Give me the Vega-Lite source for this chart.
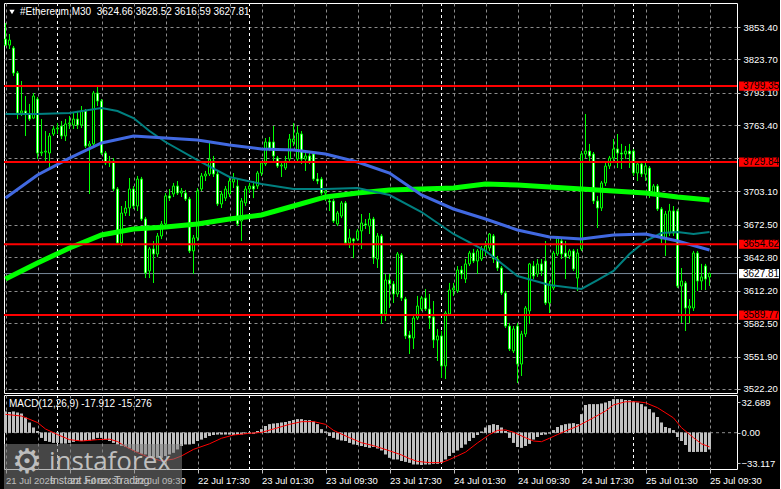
{
"$schema":"https://vega.github.io/schema/vega-lite/v6.json",
"background":"black",
"padding":{"left":2,"top":2,"right":0,"bottom":0},
"autosize":{"type":"pad"},
"bounds":"flush",
"spacing":2,
"config":{
 "view":{"stroke":"white","strokeWidth":1},
 "axis":{"labelFont":"Liberation Sans","labelFontSize":9.5,"labelColor":"white","domain":false,"gridColor":"#8c8c8c","gridDash":[3,3],"gridWidth":1,"tickColor":"#c0c0c0"},
 "text":{"font":"Liberation Sans"}
},
"datasets":{
"one":[{}],
"bars":[
{"t":"2025-07-21T17:30","o":3842.4,"h":3857.1,"l":3836.0,"c":3836.9,"m":22.7,"s":19.8},
{"t":"2025-07-21T18:00","o":3836.9,"h":3847.0,"l":3833.3,"c":3841.5,"m":22.3},
{"t":"2025-07-21T18:30","o":3834.2,"h":3836.0,"l":3808.6,"c":3811.3,"m":22.7},
{"t":"2025-07-21T19:00","o":3811.3,"h":3813.1,"l":3769.2,"c":3774.7,"m":21.6},
{"t":"2025-07-21T19:30","o":3774.7,"h":3804.0,"l":3772.0,"c":3776.6,"m":20.5,"s":18.0},
{"t":"2025-07-21T20:00","o":3776.6,"h":3790.3,"l":3753.7,"c":3773.8,"m":16.2},
{"t":"2025-07-21T20:30","o":3773.8,"h":3783.0,"l":3767.4,"c":3769.2,"m":10.8},
{"t":"2025-07-21T21:00","o":3770.1,"h":3793.0,"l":3769.2,"c":3790.3,"m":5.4},
{"t":"2025-07-21T21:30","o":3787.5,"h":3789.4,"l":3732.6,"c":3738.1,"m":1.8,"s":11.0},
{"t":"2025-07-21T22:00","o":3738.1,"h":3769.2,"l":3735.4,"c":3739.0,"m":-5.4},
{"t":"2025-07-21T22:30","o":3739.0,"h":3758.2,"l":3729.0,"c":3739.9,"m":-9.0,"s":4.0},
{"t":"2025-07-21T23:00","o":3738.1,"h":3756.4,"l":3724.4,"c":3753.7,"m":-9.7},
{"t":"2025-07-21T23:30","o":3755.5,"h":3762.8,"l":3753.7,"c":3760.1,"m":-10.8},
{"t":"2025-07-22T00:00","o":3760.1,"h":3765.6,"l":3755.5,"c":3761.0,"m":-10.8,"s":-2.0},
{"t":"2025-07-22T00:30","o":3762.8,"h":3767.4,"l":3750.9,"c":3753.7,"m":-11.5},
{"t":"2025-07-22T01:00","o":3753.7,"h":3769.2,"l":3749.1,"c":3764.7,"m":-11.5},
{"t":"2025-07-22T01:30","o":3764.7,"h":3772.0,"l":3760.1,"c":3765.6,"m":-10.8,"s":-7.5},
{"t":"2025-07-22T02:00","o":3763.7,"h":3774.7,"l":3760.1,"c":3769.2,"m":-9.7},
{"t":"2025-07-22T02:30","o":3769.2,"h":3776.6,"l":3760.1,"c":3763.7,"m":-9.0},
{"t":"2025-07-22T03:00","o":3763.7,"h":3781.1,"l":3761.0,"c":3776.6,"m":-9.0,"s":-9.0},
{"t":"2025-07-22T03:30","o":3776.6,"h":3778.4,"l":3742.7,"c":3744.5,"m":-9.0},
{"t":"2025-07-22T04:00","o":3744.5,"h":3749.1,"l":3700.6,"c":3746.4,"m":-8.2},
{"t":"2025-07-22T04:30","o":3746.4,"h":3794.9,"l":3743.6,"c":3793.0,"m":-7.2},
{"t":"2025-07-22T05:00","o":3793.0,"h":3798.5,"l":3781.1,"c":3785.7,"m":-5.4,"s":-7.5},
{"t":"2025-07-22T05:30","o":3785.7,"h":3787.5,"l":3736.3,"c":3738.1,"m":-5.4},
{"t":"2025-07-22T06:00","o":3738.1,"h":3739.9,"l":3727.1,"c":3729.0,"m":-7.2},
{"t":"2025-07-22T06:30","o":3729.0,"h":3735.4,"l":3725.3,"c":3730.8,"m":-9.0,"s":-7.0},
{"t":"2025-07-22T07:00","o":3730.8,"h":3733.5,"l":3703.4,"c":3705.2,"m":-10.8},
{"t":"2025-07-22T07:30","o":3705.2,"h":3707.0,"l":3653.9,"c":3655.8,"m":-12.5,"s":-9.5},
{"t":"2025-07-22T08:00","o":3655.8,"h":3689.6,"l":3653.0,"c":3683.2,"m":-14.3},
{"t":"2025-07-22T08:30","o":3683.2,"h":3694.2,"l":3680.5,"c":3687.8,"m":-15.4,"s":-15.0},
{"t":"2025-07-22T09:00","o":3687.8,"h":3715.2,"l":3680.5,"c":3705.2,"m":-16.9},
{"t":"2025-07-22T09:30","o":3705.2,"h":3707.9,"l":3686.9,"c":3689.6,"m":-19.0},
{"t":"2025-07-22T10:00","o":3689.6,"h":3717.1,"l":3685.1,"c":3714.3,"m":-20.5,"s":-21.5},
{"t":"2025-07-22T10:30","o":3714.3,"h":3716.2,"l":3675.9,"c":3677.7,"m":-22.6},
{"t":"2025-07-22T11:00","o":3677.7,"h":3679.6,"l":3623.7,"c":3628.3,"m":-23.3},
{"t":"2025-07-22T11:30","o":3630.2,"h":3652.1,"l":3623.7,"c":3650.3,"m":-25.1,"s":-26.9},
{"t":"2025-07-22T12:00","o":3650.3,"h":3657.6,"l":3619.2,"c":3645.7,"m":-26.2},
{"t":"2025-07-22T12:30","o":3645.7,"h":3664.9,"l":3642.9,"c":3662.2,"m":-26.9},
{"t":"2025-07-22T13:00","o":3662.2,"h":3675.9,"l":3659.4,"c":3673.2,"m":-26.9,"s":-30.5},
{"t":"2025-07-22T13:30","o":3673.2,"h":3701.5,"l":3671.3,"c":3698.8,"m":-25.1},
{"t":"2025-07-22T14:00","o":3698.8,"h":3705.2,"l":3694.2,"c":3696.9,"m":-23.3},
{"t":"2025-07-22T14:30","o":3700.6,"h":3710.7,"l":3697.9,"c":3707.9,"m":-21.5,"s":-28.5},
{"t":"2025-07-22T15:00","o":3707.9,"h":3712.5,"l":3699.7,"c":3701.5,"m":-17.9},
{"t":"2025-07-22T15:30","o":3701.5,"h":3706.1,"l":3697.9,"c":3703.4,"m":-14.3,"s":-25.1},
{"t":"2025-07-22T16:00","o":3701.5,"h":3704.3,"l":3694.2,"c":3696.0,"m":-12.5},
{"t":"2025-07-22T16:30","o":3696.0,"h":3697.9,"l":3646.6,"c":3648.5,"m":-12.5},
{"t":"2025-07-22T17:00","o":3648.5,"h":3663.1,"l":3627.4,"c":3660.4,"m":-11.8,"s":-18.0},
{"t":"2025-07-22T17:30","o":3660.4,"h":3706.1,"l":3657.6,"c":3703.4,"m":-9.0},
{"t":"2025-07-22T18:00","o":3705.2,"h":3719.8,"l":3703.4,"c":3717.1,"m":-7.2},
{"t":"2025-07-22T18:30","o":3717.1,"h":3721.7,"l":3712.5,"c":3718.9,"m":-5.4},
{"t":"2025-07-22T19:00","o":3718.9,"h":3749.1,"l":3717.1,"c":3732.6,"m":-3.6,"s":-12.0},
{"t":"2025-07-22T19:30","o":3730.8,"h":3735.4,"l":3716.2,"c":3718.9,"m":-2.5},
{"t":"2025-07-22T20:00","o":3718.9,"h":3721.7,"l":3689.6,"c":3691.5,"m":-1.8},
{"t":"2025-07-22T20:30","o":3691.5,"h":3703.4,"l":3687.8,"c":3700.6,"m":-1.8,"s":-6.0},
{"t":"2025-07-22T21:00","o":3696.9,"h":3707.9,"l":3694.2,"c":3705.2,"m":-1.8},
{"t":"2025-07-22T21:30","o":3700.6,"h":3715.2,"l":3697.9,"c":3712.5,"m":-1.8},
{"t":"2025-07-22T22:00","o":3711.6,"h":3719.8,"l":3706.1,"c":3714.3,"m":-2.5,"s":-2.5},
{"t":"2025-07-22T22:30","o":3707.9,"h":3714.3,"l":3671.3,"c":3673.2,"m":-2.5},
{"t":"2025-07-22T23:00","o":3675.9,"h":3696.9,"l":3657.6,"c":3694.2,"m":-1.8},
{"t":"2025-07-22T23:30","o":3692.4,"h":3707.9,"l":3689.6,"c":3705.2,"m":-1.0},
{"t":"2025-07-23T00:00","o":3705.2,"h":3710.7,"l":3701.5,"c":3707.9,"m":-1.0,"s":-0.7},
{"t":"2025-07-23T00:30","o":3707.9,"h":3712.5,"l":3696.9,"c":3705.2,"m":-1.0},
{"t":"2025-07-23T01:00","o":3707.9,"h":3721.7,"l":3705.2,"c":3719.8,"m":1.8},
{"t":"2025-07-23T01:30","o":3719.8,"h":3730.8,"l":3717.1,"c":3729.0,"m":3.6,"s":0.3},
{"t":"2025-07-23T02:00","o":3728.1,"h":3751.8,"l":3726.2,"c":3748.2,"m":7.2},
{"t":"2025-07-23T02:30","o":3748.2,"h":3752.8,"l":3739.9,"c":3742.7,"m":9.0},
{"t":"2025-07-23T03:00","o":3748.2,"h":3762.8,"l":3729.0,"c":3735.4,"m":9.7,"s":4.0},
{"t":"2025-07-23T03:30","o":3733.5,"h":3735.4,"l":3724.4,"c":3726.2,"m":10.1},
{"t":"2025-07-23T04:00","o":3726.2,"h":3730.8,"l":3716.2,"c":3727.1,"m":10.8},
{"t":"2025-07-23T04:30","o":3724.4,"h":3735.4,"l":3722.6,"c":3730.8,"m":11.5},
{"t":"2025-07-23T05:00","o":3732.6,"h":3755.5,"l":3730.8,"c":3750.9,"m":12.6,"s":9.0},
{"t":"2025-07-23T05:30","o":3748.2,"h":3765.6,"l":3744.5,"c":3750.9,"m":13.7},
{"t":"2025-07-23T06:00","o":3732.6,"h":3762.8,"l":3730.8,"c":3756.4,"m":14.4},
{"t":"2025-07-23T06:30","o":3755.5,"h":3758.2,"l":3728.1,"c":3732.6,"m":14.4,"s":11.9},
{"t":"2025-07-23T07:00","o":3732.6,"h":3739.9,"l":3721.7,"c":3735.4,"m":13.3},
{"t":"2025-07-23T07:30","o":3735.4,"h":3738.1,"l":3728.1,"c":3730.8,"m":13.3},
{"t":"2025-07-23T08:00","o":3737.2,"h":3739.9,"l":3712.5,"c":3714.3,"m":11.9,"s":12.0},
{"t":"2025-07-23T08:30","o":3714.3,"h":3719.8,"l":3709.7,"c":3712.5,"m":9.0},
{"t":"2025-07-23T09:00","o":3714.3,"h":3716.2,"l":3699.7,"c":3701.5,"m":3.6},
{"t":"2025-07-23T09:30","o":3701.5,"h":3705.2,"l":3694.2,"c":3703.4,"m":1.1,"s":9.0},
{"t":"2025-07-23T10:00","o":3694.2,"h":3696.0,"l":3685.1,"c":3693.3,"m":-3.6},
{"t":"2025-07-23T10:30","o":3694.2,"h":3696.0,"l":3674.1,"c":3675.9,"m":-5.4,"s":2.5},
{"t":"2025-07-23T11:00","o":3673.2,"h":3685.1,"l":3671.3,"c":3683.2,"m":-7.2},
{"t":"2025-07-23T11:30","o":3680.5,"h":3694.2,"l":3678.6,"c":3692.4,"m":-8.2},
{"t":"2025-07-23T12:00","o":3692.4,"h":3694.2,"l":3653.9,"c":3655.8,"m":-9.0},
{"t":"2025-07-23T12:30","o":3655.8,"h":3668.6,"l":3651.2,"c":3660.4,"m":-10.8,"s":-5.4},
{"t":"2025-07-23T13:00","o":3659.4,"h":3660.4,"l":3642.0,"c":3657.6,"m":-12.5},
{"t":"2025-07-23T13:30","o":3659.4,"h":3668.6,"l":3657.6,"c":3666.8,"m":-13.3},
{"t":"2025-07-23T14:00","o":3666.8,"h":3682.3,"l":3650.3,"c":3674.1,"m":-14.3,"s":-10.8},
{"t":"2025-07-23T14:30","o":3673.2,"h":3677.7,"l":3668.6,"c":3672.2,"m":-15.4},
{"t":"2025-07-23T15:00","o":3671.3,"h":3683.2,"l":3664.0,"c":3677.7,"m":-16.1},
{"t":"2025-07-23T15:30","o":3677.7,"h":3679.6,"l":3636.6,"c":3642.0,"m":-15.4,"s":-14.0},
{"t":"2025-07-23T16:00","o":3641.1,"h":3664.9,"l":3632.9,"c":3662.2,"m":-16.9},
{"t":"2025-07-23T16:30","o":3662.2,"h":3664.0,"l":3581.7,"c":3590.8,"m":-19.0},
{"t":"2025-07-23T17:00","o":3590.8,"h":3627.4,"l":3584.4,"c":3621.9,"m":-23.3},
{"t":"2025-07-23T17:30","o":3621.9,"h":3627.4,"l":3596.3,"c":3618.3,"m":-26.9,"s":-19.5},
{"t":"2025-07-23T18:00","o":3618.3,"h":3621.0,"l":3600.9,"c":3609.1,"m":-28.7},
{"t":"2025-07-23T18:30","o":3609.1,"h":3647.5,"l":3606.4,"c":3645.7,"m":-28.7},
{"t":"2025-07-23T19:00","o":3644.8,"h":3646.6,"l":3602.7,"c":3605.4,"m":-30.5,"s":-24.0},
{"t":"2025-07-23T19:30","o":3604.5,"h":3606.4,"l":3567.9,"c":3570.7,"m":-31.3},
{"t":"2025-07-23T20:00","o":3571.6,"h":3575.3,"l":3554.2,"c":3568.8,"m":-32.3,"s":-28.0},
{"t":"2025-07-23T20:30","o":3568.8,"h":3589.0,"l":3558.8,"c":3587.1,"m":-34.1},
{"t":"2025-07-23T21:00","o":3587.1,"h":3607.3,"l":3585.3,"c":3598.1,"m":-34.1,"s":-31.0},
{"t":"2025-07-23T21:30","o":3595.4,"h":3607.3,"l":3593.6,"c":3605.4,"m":-34.8},
{"t":"2025-07-23T22:00","o":3605.4,"h":3613.7,"l":3593.6,"c":3595.4,"m":-34.1},
{"t":"2025-07-23T22:30","o":3595.4,"h":3609.1,"l":3577.1,"c":3587.1,"m":-34.1,"s":-32.3},
{"t":"2025-07-23T23:00","o":3588.1,"h":3602.7,"l":3559.7,"c":3567.0,"m":-33.4},
{"t":"2025-07-23T23:30","o":3567.0,"h":3577.1,"l":3547.8,"c":3570.7,"m":-33.4},
{"t":"2025-07-24T00:00","o":3570.7,"h":3575.3,"l":3532.2,"c":3543.2,"m":-32.3,"s":-32.3},
{"t":"2025-07-24T00:30","o":3543.2,"h":3593.6,"l":3531.3,"c":3591.7,"m":-28.7},
{"t":"2025-07-24T01:00","o":3590.8,"h":3619.2,"l":3589.0,"c":3612.8,"m":-25.1,"s":-29.0},
{"t":"2025-07-24T01:30","o":3612.8,"h":3619.2,"l":3607.3,"c":3614.6,"m":-21.5},
{"t":"2025-07-24T02:00","o":3611.9,"h":3634.7,"l":3610.0,"c":3631.1,"m":-19.0,"s":-25.0},
{"t":"2025-07-24T02:30","o":3631.1,"h":3634.7,"l":3622.8,"c":3627.4,"m":-16.1},
{"t":"2025-07-24T03:00","o":3622.8,"h":3641.1,"l":3619.2,"c":3636.6,"m":-12.5,"s":-21.0},
{"t":"2025-07-24T03:30","o":3636.6,"h":3648.5,"l":3634.7,"c":3646.6,"m":-9.0},
{"t":"2025-07-24T04:00","o":3646.6,"h":3650.3,"l":3637.5,"c":3639.3,"m":-5.4},
{"t":"2025-07-24T04:30","o":3639.3,"h":3650.3,"l":3627.4,"c":3648.5,"m":-2.5,"s":-11.0},
{"t":"2025-07-24T05:00","o":3641.1,"h":3653.0,"l":3639.3,"c":3650.3,"m":1.1},
{"t":"2025-07-24T05:30","o":3648.5,"h":3657.6,"l":3643.9,"c":3653.0,"m":5.4},
{"t":"2025-07-24T06:00","o":3651.2,"h":3664.9,"l":3648.5,"c":3664.0,"m":7.9,"s":-2.0},
{"t":"2025-07-24T06:30","o":3662.2,"h":3664.0,"l":3637.5,"c":3641.1,"m":9.0},
{"t":"2025-07-24T07:00","o":3641.1,"h":3643.9,"l":3630.2,"c":3632.9,"m":8.3,"s":2.5},
{"t":"2025-07-24T07:30","o":3632.9,"h":3634.7,"l":3608.2,"c":3610.0,"m":5.4},
{"t":"2025-07-24T08:00","o":3610.0,"h":3611.9,"l":3578.0,"c":3579.8,"m":1.8,"s":3.0},
{"t":"2025-07-24T08:30","o":3579.8,"h":3582.6,"l":3557.0,"c":3558.8,"m":-5.4},
{"t":"2025-07-24T09:00","o":3557.0,"h":3579.8,"l":3555.1,"c":3577.1,"m":-10.8,"s":0.5},
{"t":"2025-07-24T09:30","o":3579.8,"h":3582.6,"l":3527.7,"c":3545.0,"m":-15.4},
{"t":"2025-07-24T10:00","o":3545.0,"h":3575.3,"l":3534.1,"c":3572.5,"m":-16.1},
{"t":"2025-07-24T10:30","o":3572.5,"h":3598.1,"l":3569.8,"c":3596.3,"m":-14.3,"s":-5.4},
{"t":"2025-07-24T11:00","o":3593.6,"h":3637.5,"l":3581.7,"c":3636.6,"m":-11.8},
{"t":"2025-07-24T11:30","o":3634.7,"h":3639.3,"l":3622.8,"c":3625.6,"m":-7.2,"s":-9.0},
{"t":"2025-07-24T12:00","o":3627.4,"h":3641.1,"l":3624.7,"c":3636.6,"m":-4.6},
{"t":"2025-07-24T12:30","o":3636.6,"h":3641.1,"l":3625.6,"c":3630.2,"m":-2.5,"s":-9.7},
{"t":"2025-07-24T13:00","o":3639.3,"h":3657.6,"l":3599.0,"c":3600.9,"m":-1.8},
{"t":"2025-07-24T13:30","o":3600.9,"h":3621.0,"l":3591.7,"c":3618.3,"m":-0.7,"s":-6.0},
{"t":"2025-07-24T14:00","o":3614.6,"h":3648.5,"l":3612.8,"c":3646.6,"m":2.6},
{"t":"2025-07-24T14:30","o":3645.7,"h":3662.2,"l":3643.9,"c":3660.4,"m":6.1,"s":-2.0},
{"t":"2025-07-24T15:00","o":3657.6,"h":3660.4,"l":3641.1,"c":3645.7,"m":7.9},
{"t":"2025-07-24T15:30","o":3646.6,"h":3657.6,"l":3622.8,"c":3643.0,"m":9.0,"s":1.8},
{"t":"2025-07-24T16:00","o":3643.9,"h":3650.3,"l":3641.1,"c":3648.5,"m":9.7},
{"t":"2025-07-24T16:30","o":3648.5,"h":3650.3,"l":3630.2,"c":3632.0,"m":10.1},
{"t":"2025-07-24T17:00","o":3623.7,"h":3650.3,"l":3611.9,"c":3646.6,"m":9.0,"s":7.0},
{"t":"2025-07-24T17:30","o":3650.3,"h":3739.9,"l":3648.5,"c":3737.2,"m":19.8},
{"t":"2025-07-24T18:00","o":3737.2,"h":3773.8,"l":3733.5,"c":3739.9,"m":29.9},
{"t":"2025-07-24T18:30","o":3739.9,"h":3746.4,"l":3730.8,"c":3735.4,"m":30.6},
{"t":"2025-07-24T19:00","o":3737.2,"h":3739.0,"l":3691.5,"c":3694.2,"m":30.6,"s":16.2},
{"t":"2025-07-24T19:30","o":3694.2,"h":3698.8,"l":3669.5,"c":3687.8,"m":30.6},
{"t":"2025-07-24T20:00","o":3687.8,"h":3712.5,"l":3685.1,"c":3710.7,"m":31.3},
{"t":"2025-07-24T20:30","o":3710.7,"h":3729.0,"l":3707.9,"c":3726.2,"m":32.4,"s":23.4},
{"t":"2025-07-24T21:00","o":3726.2,"h":3735.4,"l":3723.5,"c":3733.5,"m":34.2},
{"t":"2025-07-24T21:30","o":3733.5,"h":3750.9,"l":3730.8,"c":3741.8,"m":36.0,"s":30.0},
{"t":"2025-07-24T22:00","o":3741.8,"h":3755.5,"l":3724.4,"c":3738.1,"m":36.0},
{"t":"2025-07-24T22:30","o":3738.1,"h":3746.4,"l":3723.5,"c":3737.2,"m":36.0},
{"t":"2025-07-24T23:00","o":3737.2,"h":3744.5,"l":3732.6,"c":3739.9,"m":35.3,"s":33.4},
{"t":"2025-07-24T23:30","o":3739.9,"h":3746.4,"l":3724.4,"c":3737.2,"m":34.9},
{"t":"2025-07-25T00:00","o":3739.9,"h":3741.8,"l":3717.1,"c":3719.8,"m":33.5},
{"t":"2025-07-25T00:30","o":3719.8,"h":3729.0,"l":3712.5,"c":3728.1,"m":32.4,"s":33.4},
{"t":"2025-07-25T01:00","o":3728.1,"h":3730.8,"l":3716.2,"c":3718.9,"m":30.6},
{"t":"2025-07-25T01:30","o":3718.9,"h":3730.8,"l":3712.5,"c":3726.2,"m":28.1,"s":32.3},
{"t":"2025-07-25T02:00","o":3724.4,"h":3726.2,"l":3696.9,"c":3701.5,"m":25.2},
{"t":"2025-07-25T02:30","o":3701.5,"h":3709.7,"l":3699.7,"c":3707.9,"m":21.6},
{"t":"2025-07-25T03:00","o":3707.9,"h":3709.7,"l":3685.1,"c":3686.9,"m":16.9,"s":27.0},
{"t":"2025-07-25T03:30","o":3686.9,"h":3688.7,"l":3655.8,"c":3659.4,"m":10.8},
{"t":"2025-07-25T04:00","o":3659.4,"h":3685.1,"l":3643.9,"c":3682.3,"m":6.1},
{"t":"2025-07-25T04:30","o":3664.9,"h":3691.5,"l":3662.2,"c":3685.1,"m":4.7},
{"t":"2025-07-25T05:00","o":3685.1,"h":3689.6,"l":3662.2,"c":3664.9,"m":2.6,"s":16.0},
{"t":"2025-07-25T05:30","o":3685.1,"h":3686.9,"l":3614.6,"c":3616.4,"m":-4.6},
{"t":"2025-07-25T06:00","o":3616.4,"h":3632.9,"l":3582.6,"c":3621.0,"m":-9.0,"s":5.4},
{"t":"2025-07-25T06:30","o":3619.2,"h":3621.0,"l":3575.3,"c":3596.3,"m":-13.3},
{"t":"2025-07-25T07:00","o":3596.3,"h":3604.5,"l":3582.6,"c":3598.1,"m":-20.5},
{"t":"2025-07-25T07:30","o":3596.3,"h":3648.5,"l":3593.6,"c":3646.6,"m":-20.8,"s":-5.4},
{"t":"2025-07-25T08:00","o":3646.6,"h":3648.5,"l":3611.9,"c":3621.0,"m":-20.5},
{"t":"2025-07-25T08:30","o":3621.0,"h":3636.6,"l":3612.8,"c":3624.7,"m":-20.5,"s":-12.0},
{"t":"2025-07-25T09:00","o":3634.7,"h":3636.6,"l":3612.8,"c":3622.8,"m":-20.8},
{"t":"2025-07-25T09:30","o":3624.66,"h":3628.52,"l":3616.59,"c":3627.81,"m":-17.9,"s":-15.3}
],
"ma":[
{"t":"2025-07-21T17:30","b":3696.9,"te":3773.8,"g":3622.8},
{"t":"2025-07-21T21:30","b":3718.0,"te":3773.8,"g":3637.5},
{"t":"2025-07-22T01:30","b":3733.5,"te":3774.7,"g":3651.2},
{"t":"2025-07-22T05:30","b":3747.3,"te":3779.3,"g":3663.1},
{"t":"2025-07-22T07:30","b":null,"te":3776.6,"g":null},
{"t":"2025-07-22T09:30","b":3753.7,"te":3770.1,"g":3668.6},
{"t":"2025-07-22T11:30","b":null,"te":3758.2,"g":null},
{"t":"2025-07-22T13:30","b":3751.8,"te":3748.2,"g":3670.4},
{"t":"2025-07-22T17:30","b":3750.0,"te":3731.7,"g":3673.2},
{"t":"2025-07-22T21:30","b":3745.4,"te":3716.2,"g":3677.7},
{"t":"2025-07-23T01:30","b":3741.8,"te":3709.8,"g":3681.4},
{"t":"2025-07-23T05:30","b":3740.9,"te":3705.2,"g":3689.6},
{"t":"2025-07-23T09:30","b":3737.2,"te":3705.2,"g":3697.9},
{"t":"2025-07-23T13:30","b":3729.9,"te":3706.1,"g":3701.5},
{"t":"2025-07-23T17:30","b":3719.8,"te":3699.7,"g":3704.3},
{"t":"2025-07-23T21:30","b":3699.7,"te":3684.1,"g":3705.2},
{"t":"2025-07-24T01:30","b":3686.9,"te":3664.0,"g":3706.1},
{"t":"2025-07-24T05:30","b":3677.7,"te":3648.5,"g":3709.8},
{"t":"2025-07-24T09:30","b":3667.7,"te":3625.6,"g":3708.8},
{"t":"2025-07-24T13:30","b":3661.3,"te":3617.3,"g":3707.0},
{"t":"2025-07-24T17:30","b":3659.4,"te":3613.7,"g":3705.2},
{"t":"2025-07-24T19:30","b":null,"te":3621.9,"g":null},
{"t":"2025-07-24T21:30","b":3663.1,"te":3630.2,"g":3703.4},
{"t":"2025-07-24T23:30","b":null,"te":3645.7,"g":null},
{"t":"2025-07-25T01:30","b":3664.0,"te":3657.6,"g":3701.5},
{"t":"2025-07-25T03:30","b":null,"te":3664.9,"g":null},
{"t":"2025-07-25T05:30","b":3657.6,"te":3665.8,"g":3697.9},
{"t":"2025-07-25T07:30","b":null,"te":3664.0,"g":null},
{"t":"2025-07-25T09:30","b":3649.4,"te":3665.8,"g":3695.1}
],
"lv":[{"p":3799.35},{"p":3729.84},{"p":3654.62},{"p":3589.77}],
"bid":[{"p":3627.81}],
"days":[{"t":"2025-07-22T00:00"},{"t":"2025-07-23T00:00"},{"t":"2025-07-24T00:00"},{"t":"2025-07-25T00:00"}]
},
"vconcat":[
{
"width":733,"height":390,
"resolve":{"axis":{"x":"independent","y":"independent"}},
"layer":[
{"data":{"name":"bars"},"mark":{"type":"rule","color":"#00ff00","strokeWidth":1,"clip":true},
 "encoding":{"x":{"field":"t","type":"temporal","scale":{"domain":[{"year":2025,"month":"Jul","date":21,"hours":17,"minutes":18,"seconds":45},{"year":2025,"month":"Jul","date":25,"hours":12,"minutes":56,"seconds":15}],"nice":false,"padding":0},
  "axis":{"values":[{"year":2025,"month":"Jul","date":21,"hours":17,"minutes":30},{"year":2025,"month":"Jul","date":21,"hours":21,"minutes":30},{"year":2025,"month":"Jul","date":22,"hours":1,"minutes":30},{"year":2025,"month":"Jul","date":22,"hours":5,"minutes":30},{"year":2025,"month":"Jul","date":22,"hours":9,"minutes":30},{"year":2025,"month":"Jul","date":22,"hours":13,"minutes":30},{"year":2025,"month":"Jul","date":22,"hours":17,"minutes":30},{"year":2025,"month":"Jul","date":22,"hours":21,"minutes":30},{"year":2025,"month":"Jul","date":23,"hours":1,"minutes":30},{"year":2025,"month":"Jul","date":23,"hours":5,"minutes":30},{"year":2025,"month":"Jul","date":23,"hours":9,"minutes":30},{"year":2025,"month":"Jul","date":23,"hours":13,"minutes":30},{"year":2025,"month":"Jul","date":23,"hours":17,"minutes":30},{"year":2025,"month":"Jul","date":23,"hours":21,"minutes":30},{"year":2025,"month":"Jul","date":24,"hours":1,"minutes":30},{"year":2025,"month":"Jul","date":24,"hours":5,"minutes":30},{"year":2025,"month":"Jul","date":24,"hours":9,"minutes":30},{"year":2025,"month":"Jul","date":24,"hours":13,"minutes":30},{"year":2025,"month":"Jul","date":24,"hours":17,"minutes":30},{"year":2025,"month":"Jul","date":24,"hours":21,"minutes":30},{"year":2025,"month":"Jul","date":25,"hours":1,"minutes":30},{"year":2025,"month":"Jul","date":25,"hours":5,"minutes":30},{"year":2025,"month":"Jul","date":25,"hours":9,"minutes":30}],
   "grid":true,"labels":false,"ticks":false,"domain":false,"title":null}},
  "y":{"field":"l","type":"quantitative","scale":{"domain":[3518.5,3875.4],"nice":false,"zero":false},
   "axis":{"orient":"right","values":[3853.4,3823.7,3793.1,3763.4,3733.3,3703.1,3672.5,3642.8,3612.2,3582.5,3551.9,3522.2],"labelExpr":"datum.value == 3733.3 ? '' : format(datum.value, '.2f')","grid":true,"tickSize":3,"labelPadding":3,"labelBaseline":"middle","labelFlush":false,"labelOverlap":false,"domain":false,"title":null}},
  "y2":{"field":"h"}}},
{"data":{"name":"days"},"mark":{"type":"rule","color":"white","strokeDash":[3,3],"strokeWidth":1},
 "encoding":{"x":{"field":"t","type":"temporal","scale":{"domain":[{"year":2025,"month":"Jul","date":21,"hours":17,"minutes":18,"seconds":45},{"year":2025,"month":"Jul","date":25,"hours":12,"minutes":56,"seconds":15}],"nice":false,"padding":0},"axis":null}}},
{"data":{"name":"bid"},"mark":{"type":"rule","color":"#778899","strokeWidth":1},
 "encoding":{"y":{"field":"p","type":"quantitative","scale":{"domain":[3518.5,3875.4],"nice":false,"zero":false},"axis":null}}},
{"data":{"name":"bars"},"mark":{"type":"rule","color":"#00ff00","strokeWidth":1,"clip":true},
 "encoding":{"x":{"field":"t","type":"temporal","scale":{"domain":[{"year":2025,"month":"Jul","date":21,"hours":17,"minutes":18,"seconds":45},{"year":2025,"month":"Jul","date":25,"hours":12,"minutes":56,"seconds":15}],"nice":false,"padding":0},"axis":null},
  "y":{"field":"l","type":"quantitative","scale":{"domain":[3518.5,3875.4],"nice":false,"zero":false},"axis":null},"y2":{"field":"h"}}},
{"data":{"name":"bars"},"mark":{"type":"bar","size":2,"stroke":"#00ff00","strokeWidth":1,"clip":true},
 "encoding":{"x":{"field":"t","type":"temporal","scale":{"domain":[{"year":2025,"month":"Jul","date":21,"hours":17,"minutes":18,"seconds":45},{"year":2025,"month":"Jul","date":25,"hours":12,"minutes":56,"seconds":15}],"nice":false,"padding":0},"axis":null},
  "y":{"field":"o","type":"quantitative","scale":{"domain":[3518.5,3875.4],"nice":false,"zero":false},"axis":null},"y2":{"field":"c"},
  "fill":{"condition":{"test":"datum.c < datum.o","value":"white"},"value":"black"}}},
{"data":{"name":"ma"},"transform":[{"filter":"isValid(datum.g)"}],"mark":{"type":"line","color":"#00ff00","strokeWidth":5,"clip":true},
 "encoding":{"x":{"field":"t","type":"temporal","scale":{"domain":[{"year":2025,"month":"Jul","date":21,"hours":17,"minutes":18,"seconds":45},{"year":2025,"month":"Jul","date":25,"hours":12,"minutes":56,"seconds":15}],"nice":false,"padding":0},"axis":null},
  "y":{"field":"g","type":"quantitative","scale":{"domain":[3518.5,3875.4],"nice":false,"zero":false},"axis":null}}},
{"data":{"name":"ma"},"transform":[{"filter":"isValid(datum.te)"}],"mark":{"type":"line","color":"#008080","strokeWidth":2,"clip":true},
 "encoding":{"x":{"field":"t","type":"temporal","scale":{"domain":[{"year":2025,"month":"Jul","date":21,"hours":17,"minutes":18,"seconds":45},{"year":2025,"month":"Jul","date":25,"hours":12,"minutes":56,"seconds":15}],"nice":false,"padding":0},"axis":null},
  "y":{"field":"te","type":"quantitative","scale":{"domain":[3518.5,3875.4],"nice":false,"zero":false},"axis":null}}},
{"data":{"name":"ma"},"transform":[{"filter":"isValid(datum.b)"}],"mark":{"type":"line","color":"#4169e1","strokeWidth":3,"clip":true},
 "encoding":{"x":{"field":"t","type":"temporal","scale":{"domain":[{"year":2025,"month":"Jul","date":21,"hours":17,"minutes":18,"seconds":45},{"year":2025,"month":"Jul","date":25,"hours":12,"minutes":56,"seconds":15}],"nice":false,"padding":0},"axis":null},
  "y":{"field":"b","type":"quantitative","scale":{"domain":[3518.5,3875.4],"nice":false,"zero":false},"axis":null}}},
{"data":{"name":"lv"},"mark":{"type":"rule","color":"#ff0000","strokeWidth":2},
 "encoding":{"y":{"field":"p","type":"quantitative","scale":{"domain":[3518.5,3875.4],"nice":false,"zero":false},"axis":null}}},
{"data":{"name":"lv"},"mark":{"type":"point","shape":"M-1,-0.23H1V0.23H-1Z","filled":true,"color":"#ff0000","size":1600,"opacity":1,"strokeWidth":0},
 "encoding":{"x":{"datum":{"year":2025,"month":"Jul","date":25,"hours":15,"minutes":41,"seconds":15},"type":"temporal","scale":{"domain":[{"year":2025,"month":"Jul","date":21,"hours":17,"minutes":18,"seconds":45},{"year":2025,"month":"Jul","date":25,"hours":12,"minutes":56,"seconds":15}],"nice":false,"padding":0},"axis":null},
  "y":{"field":"p","type":"quantitative","scale":{"domain":[3518.5,3875.4],"nice":false,"zero":false},"axis":null}}},
{"data":{"name":"lv"},"mark":{"type":"text","align":"left","baseline":"middle","fontSize":10,"color":"black"},
 "encoding":{"x":{"datum":{"year":2025,"month":"Jul","date":25,"hours":13,"minutes":41,"seconds":15},"type":"temporal","scale":{"domain":[{"year":2025,"month":"Jul","date":21,"hours":17,"minutes":18,"seconds":45},{"year":2025,"month":"Jul","date":25,"hours":12,"minutes":56,"seconds":15}],"nice":false,"padding":0},"axis":null},
  "y":{"field":"p","type":"quantitative","scale":{"domain":[3518.5,3875.4],"nice":false,"zero":false},"axis":null},
  "text":{"field":"p","type":"quantitative","format":".2f"}}},
{"data":{"name":"bid"},"mark":{"type":"point","shape":"M-1,-0.23H1V0.23H-1Z","filled":true,"color":"white","size":1600,"opacity":1,"strokeWidth":0},
 "encoding":{"x":{"datum":{"year":2025,"month":"Jul","date":25,"hours":15,"minutes":41,"seconds":15},"type":"temporal","scale":{"domain":[{"year":2025,"month":"Jul","date":21,"hours":17,"minutes":18,"seconds":45},{"year":2025,"month":"Jul","date":25,"hours":12,"minutes":56,"seconds":15}],"nice":false,"padding":0},"axis":null},
  "y":{"field":"p","type":"quantitative","scale":{"domain":[3518.5,3875.4],"nice":false,"zero":false},"axis":null}}},
{"data":{"name":"bid"},"mark":{"type":"text","align":"left","baseline":"middle","fontSize":10,"color":"black"},
 "encoding":{"x":{"datum":{"year":2025,"month":"Jul","date":25,"hours":13,"minutes":41,"seconds":15},"type":"temporal","scale":{"domain":[{"year":2025,"month":"Jul","date":21,"hours":17,"minutes":18,"seconds":45},{"year":2025,"month":"Jul","date":25,"hours":12,"minutes":56,"seconds":15}],"nice":false,"padding":0},"axis":null},
  "y":{"field":"p","type":"quantitative","scale":{"domain":[3518.5,3875.4],"nice":false,"zero":false},"axis":null},
  "text":{"field":"p","type":"quantitative","format":".2f"}}},
{"data":{"name":"one"},"mark":{"type":"point","shape":"triangle-down","filled":true,"color":"white","size":28,"opacity":1},
 "encoding":{"x":{"datum":{"year":2025,"month":"Jul","date":21,"hours":18,"minutes":18,"seconds":45},"type":"temporal","scale":{"domain":[{"year":2025,"month":"Jul","date":21,"hours":17,"minutes":18,"seconds":45},{"year":2025,"month":"Jul","date":25,"hours":12,"minutes":56,"seconds":15}],"nice":false,"padding":0},"axis":null},
  "y":{"datum":3867.1,"type":"quantitative","scale":{"domain":[3518.5,3875.4],"nice":false,"zero":false},"axis":null}}},
{"data":{"name":"one"},"mark":{"type":"text","align":"left","baseline":"middle","fontSize":10,"color":"white","text":"#Ethereum,M30\u00a0\u00a03624.66 3628.52 3616.59 3627.81"},
 "encoding":{"x":{"datum":{"year":2025,"month":"Jul","date":21,"hours":19,"minutes":18,"seconds":45},"type":"temporal","scale":{"domain":[{"year":2025,"month":"Jul","date":21,"hours":17,"minutes":18,"seconds":45},{"year":2025,"month":"Jul","date":25,"hours":12,"minutes":56,"seconds":15}],"nice":false,"padding":0},"axis":null},
  "y":{"datum":3867.6,"type":"quantitative","scale":{"domain":[3518.5,3875.4],"nice":false,"zero":false},"axis":null}}}
]
},
{
"width":733,"height":74,
"resolve":{"axis":{"x":"independent","y":"independent"}},
"layer":[
{"data":{"name":"bars"},"mark":{"type":"bar","size":3,"color":"#c0c0c0","clip":true},
 "encoding":{"x":{"field":"t","type":"temporal","scale":{"domain":[{"year":2025,"month":"Jul","date":21,"hours":17,"minutes":18,"seconds":45},{"year":2025,"month":"Jul","date":25,"hours":12,"minutes":56,"seconds":15}],"nice":false,"padding":0},
  "axis":{"values":[{"year":2025,"month":"Jul","date":21,"hours":17,"minutes":30},{"year":2025,"month":"Jul","date":21,"hours":21,"minutes":30},{"year":2025,"month":"Jul","date":22,"hours":1,"minutes":30},{"year":2025,"month":"Jul","date":22,"hours":5,"minutes":30},{"year":2025,"month":"Jul","date":22,"hours":9,"minutes":30},{"year":2025,"month":"Jul","date":22,"hours":13,"minutes":30},{"year":2025,"month":"Jul","date":22,"hours":17,"minutes":30},{"year":2025,"month":"Jul","date":22,"hours":21,"minutes":30},{"year":2025,"month":"Jul","date":23,"hours":1,"minutes":30},{"year":2025,"month":"Jul","date":23,"hours":5,"minutes":30},{"year":2025,"month":"Jul","date":23,"hours":9,"minutes":30},{"year":2025,"month":"Jul","date":23,"hours":13,"minutes":30},{"year":2025,"month":"Jul","date":23,"hours":17,"minutes":30},{"year":2025,"month":"Jul","date":23,"hours":21,"minutes":30},{"year":2025,"month":"Jul","date":24,"hours":1,"minutes":30},{"year":2025,"month":"Jul","date":24,"hours":5,"minutes":30},{"year":2025,"month":"Jul","date":24,"hours":9,"minutes":30},{"year":2025,"month":"Jul","date":24,"hours":13,"minutes":30},{"year":2025,"month":"Jul","date":24,"hours":17,"minutes":30},{"year":2025,"month":"Jul","date":24,"hours":21,"minutes":30},{"year":2025,"month":"Jul","date":25,"hours":1,"minutes":30},{"year":2025,"month":"Jul","date":25,"hours":5,"minutes":30},{"year":2025,"month":"Jul","date":25,"hours":9,"minutes":30}],
   "grid":true,"ticks":true,"tickSize":4,"tickOpacity":{"condition":{"test":"hours(datum.value) % 8 == 1","value":1},"value":0},
   "labelExpr":"hours(datum.value) % 8 == 1 ? (date(datum.value) == 21 ? '21 Jul 2025' : timeFormat(datum.value, '%d %b %H:%M')) : ''",
   "labelAlign":"left","labelBaseline":"top","labelPadding":2,"labelOverlap":false,"labelFlush":false,"domain":false,"title":null}},
  "y":{"field":"m","type":"quantitative","scale":{"domain":[-39.2,40.7],"nice":false},
   "axis":{"orient":"right","values":[32.689,0,-33.117],"labelExpr":"datum.value == 0 ? '0.00' : format(datum.value, '.3f')","grid":false,"tickSize":3,"labelPadding":1,"labelBaseline":"middle","labelFlush":false,"labelOverlap":false,"domain":false,"title":null}}}},
{"data":{"name":"days"},"mark":{"type":"rule","color":"white","strokeDash":[3,3],"strokeWidth":1},
 "encoding":{"x":{"field":"t","type":"temporal","scale":{"domain":[{"year":2025,"month":"Jul","date":21,"hours":17,"minutes":18,"seconds":45},{"year":2025,"month":"Jul","date":25,"hours":12,"minutes":56,"seconds":15}],"nice":false,"padding":0},"axis":null}}},
{"data":{"name":"one"},"mark":{"type":"rule","color":"#8c8c8c","strokeDash":[3,3],"strokeWidth":1},
 "encoding":{"y":{"datum":0,"type":"quantitative","scale":{"domain":[-39.2,40.7],"nice":false},"axis":null}}},
{"data":{"name":"bars"},"mark":{"type":"bar","size":3,"color":"#c0c0c0","clip":true},
 "encoding":{"x":{"field":"t","type":"temporal","scale":{"domain":[{"year":2025,"month":"Jul","date":21,"hours":17,"minutes":18,"seconds":45},{"year":2025,"month":"Jul","date":25,"hours":12,"minutes":56,"seconds":15}],"nice":false,"padding":0},"axis":null},
  "y":{"field":"m","type":"quantitative","scale":{"domain":[-39.2,40.7],"nice":false},"axis":null}}},
{"data":{"name":"bars"},"transform":[{"filter":"isValid(datum.s)"}],"mark":{"type":"line","color":"#ff0000","strokeWidth":1,"clip":true},
 "encoding":{"x":{"field":"t","type":"temporal","scale":{"domain":[{"year":2025,"month":"Jul","date":21,"hours":17,"minutes":18,"seconds":45},{"year":2025,"month":"Jul","date":25,"hours":12,"minutes":56,"seconds":15}],"nice":false,"padding":0},"axis":null},
  "y":{"field":"s","type":"quantitative","scale":{"domain":[-39.2,40.7],"nice":false},"axis":null}}},
{"data":{"name":"one"},"mark":{"type":"text","align":"left","baseline":"middle","fontSize":10,"color":"white","text":"MACD(12,26,9) -17.912 -15.276"},
 "encoding":{"x":{"datum":{"year":2025,"month":"Jul","date":21,"hours":17,"minutes":56,"seconds":15},"type":"temporal","scale":{"domain":[{"year":2025,"month":"Jul","date":21,"hours":17,"minutes":18,"seconds":45},{"year":2025,"month":"Jul","date":25,"hours":12,"minutes":56,"seconds":15}],"nice":false,"padding":0},"axis":null},
  "y":{"datum":31.5,"type":"quantitative","scale":{"domain":[-39.2,40.7],"nice":false},"axis":null}}},
{"data":{"name":"one"},"mark":{"type":"rect","color":"#808080","opacity":0.55},
 "encoding":{"x":{"datum":{"year":2025,"month":"Jul","date":21,"hours":17,"minutes":18,"seconds":45},"type":"temporal","scale":{"domain":[{"year":2025,"month":"Jul","date":21,"hours":17,"minutes":18,"seconds":45},{"year":2025,"month":"Jul","date":25,"hours":12,"minutes":56,"seconds":15}],"nice":false,"padding":0},"axis":null},
  "x2":{"datum":{"year":2025,"month":"Jul","date":22,"hours":15,"minutes":33,"seconds":45}},
  "y":{"datum":-12.2,"type":"quantitative","scale":{"domain":[-39.2,40.7],"nice":false},"axis":null},"y2":{"datum":-61.8}}},
{"data":{"name":"one"},"mark":{"type":"text","align":"center","baseline":"middle","font":"DejaVu Sans","fontSize":34,"color":"#bdbdbd","text":"⚙"},
 "encoding":{"x":{"datum":{"year":2025,"month":"Jul","date":21,"hours":20,"minutes":11,"seconds":15},"type":"temporal","scale":{"domain":[{"year":2025,"month":"Jul","date":21,"hours":17,"minutes":18,"seconds":45},{"year":2025,"month":"Jul","date":25,"hours":12,"minutes":56,"seconds":15}],"nice":false,"padding":0},"axis":null},
  "y":{"datum":-32.7,"type":"quantitative","scale":{"domain":[-39.2,40.7],"nice":false},"axis":null}}},
{"data":{"name":"one"},"mark":{"type":"text","align":"left","baseline":"alphabetic","font":"Open Sans","fontSize":26,"color":"#bfbfbf","text":"instaforex"},
 "encoding":{"x":{"datum":{"year":2025,"month":"Jul","date":21,"hours":22,"minutes":56,"seconds":15},"type":"temporal","scale":{"domain":[{"year":2025,"month":"Jul","date":21,"hours":17,"minutes":18,"seconds":45},{"year":2025,"month":"Jul","date":25,"hours":12,"minutes":56,"seconds":15}],"nice":false,"padding":0},"axis":null},
  "y":{"datum":-40.2,"type":"quantitative","scale":{"domain":[-39.2,40.7],"nice":false},"axis":null}}},
{"data":{"name":"one"},"mark":{"type":"text","align":"left","baseline":"alphabetic","fontSize":10.5,"color":"#c8c8c8","text":"Instant Forex Trading"},
 "encoding":{"x":{"datum":{"year":2025,"month":"Jul","date":21,"hours":23,"minutes":3,"seconds":45},"type":"temporal","scale":{"domain":[{"year":2025,"month":"Jul","date":21,"hours":17,"minutes":18,"seconds":45},{"year":2025,"month":"Jul","date":25,"hours":12,"minutes":56,"seconds":15}],"nice":false,"padding":0},"axis":null},
  "y":{"datum":-55.3,"type":"quantitative","scale":{"domain":[-39.2,40.7],"nice":false},"axis":null}}}
]
}
]
}
